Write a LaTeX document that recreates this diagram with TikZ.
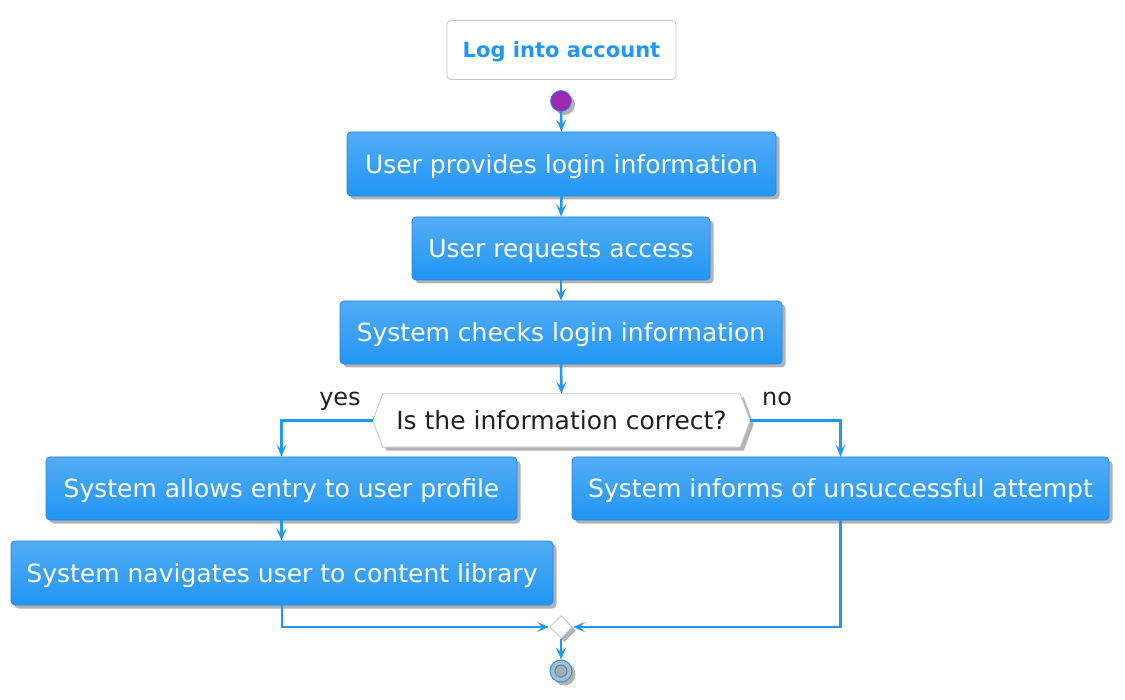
\documentclass[tikz,border=0pt]{standalone}
\usepackage{fontspec}
\setmainfont{DejaVu Sans}
\usetikzlibrary{arrows.meta,shadows,shapes.geometric,backgrounds,calc}
\definecolor{lineblue}{RGB}{33,150,243}
\definecolor{boxtop}{RGB}{82,172,246}
\definecolor{boxbot}{RGB}{33,150,243}
\definecolor{boxedge}{RGB}{30,136,229}
\definecolor{greyedge}{RGB}{200,200,200}
\definecolor{darktext}{RGB}{34,34,34}
\definecolor{startfill}{RGB}{156,39,176}
\tikzset{
  shadowed/.style={drop shadow={shadow xshift=3.5pt,shadow yshift=-3.5pt,opacity=0.3,fill=black}},
  actbox/.style={rectangle, rounded corners=4pt, draw=boxedge, line width=0.8pt,
    top color=boxtop, bottom color=boxbot, text=white, inner sep=0pt,
    font=\fontsize{25}{30}\selectfont, text height=18.2pt, text depth=0pt, shadowed},
  conn/.style={draw=lineblue, line width=2.6pt, -{Stealth[length=12pt,width=10pt,inset=5pt]}},
  lbl/.style={text=darktext, font=\fontsize{24}{28}\selectfont, inner sep=0pt, text height=17.5pt, text depth=0pt},
}
\begin{document}
\begin{tikzpicture}[x=1pt,y=-1pt]
\useasboundingbox (0,0) rectangle (1125,700);
% title
\node (title) [rectangle, rounded corners=4pt, draw=greyedge, line width=0.9pt, fill=white,
  minimum width=229pt, minimum height=59pt, inner sep=0pt, text=lineblue,
  text height=15.3pt, text depth=0pt,
  font=\bfseries\fontsize{21}{25}\selectfont] at (561.5,50) {Log into account};
% start
\node (start) [circle, fill=startfill, draw=lineblue, line width=0.7pt, minimum size=21pt, inner sep=0pt, shadowed] at (561,101) {};
% boxes
\node (b1) [actbox, minimum width=429pt, minimum height=64pt] at (561.5,164) {User provides login information};
\node (b2) [actbox, minimum width=298pt, minimum height=63pt] at (561,248.5) {User requests access};
\node (b3) [actbox, minimum width=442pt, minimum height=63pt] at (561,332.5) {System checks login information};
% decision
\node (dec) [rectangle, minimum width=377pt, minimum height=53pt, inner sep=0pt, text=darktext,
  text height=18.2pt, text depth=0pt,
  font=\fontsize{25}{30}\selectfont] at (561.5,420.5) {Is the information correct?};
\begin{scope}[on background layer]
\fill[white] (0,0) rectangle (1125,700);
\path[draw=greyedge, line width=0.9pt, fill=white, shadowed]
  (dec.west) -- ([xshift=10pt]dec.north west) -- ([xshift=-10pt]dec.north east) -- (dec.east)
  -- ([xshift=-10pt]dec.south east) -- ([xshift=10pt]dec.south west) -- cycle;
\end{scope}
\node (yes) [lbl] at (340,397) {yes};
\node (no) [lbl] at (777,397) {no};
\node (b4) [actbox, minimum width=471pt, minimum height=63pt] at (281.5,488.5) {System allows entry to user profile};
\node (b5) [actbox, minimum width=542pt, minimum height=64pt] at (282,573) {System navigates user to content library};
\node (b6) [actbox, minimum width=537pt, minimum height=63pt] at (840.5,488.5) {System informs of unsuccessful attempt};
% merge and end
\node (merge) [diamond, draw=greyedge, line width=0.9pt, fill=white, minimum size=23pt, inner sep=0pt, shadowed] at (561,627) {};
\node (endn) [circle, draw=lineblue, line width=1pt, fill=gray!55, minimum size=22pt, inner sep=0pt, shadowed] at (561,671) {};
\node (endin) [circle, draw=lineblue, line width=1pt, fill=gray!65, minimum size=12pt, inner sep=0pt] at (endn.center) {};
% connectors
\draw[conn] (start.south) -- (b1.north);
\draw[conn] (b1.south) -- (b2.north);
\draw[conn] (b2.south) -- (b3.north);
\draw[conn] (b3.south) -- (dec.north);
\draw[conn] (dec.west) -| (b4.north);
\draw[conn] (dec.east) -| (b6.north);
\draw[conn] (b4.south) -- (b4.south |- b5.north);
\draw[conn] (b5.south) |- (merge.west);
\draw[conn] (b6.south) |- (merge.east);
\draw[conn] (merge.south) -- (endn.north);
\end{tikzpicture}
\end{document}
